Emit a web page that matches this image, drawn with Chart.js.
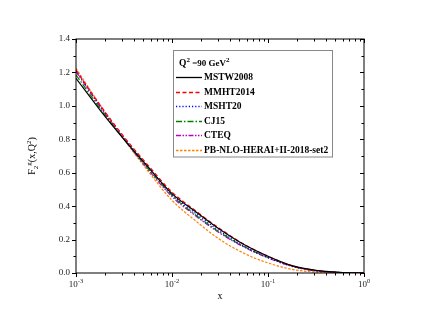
<html>
<head>
<script src="https://cdn.jsdelivr.net/npm/chart.js@4.4.1/dist/chart.umd.min.js"></script>
<style>
  body { margin: 0; background: #fff; }
  #wrap { width: 423px; height: 327px; }
</style>
</head>
<body>
<div id="wrap"><canvas id="mainchart" width="423" height="327"></canvas></div>
<script>
// x grid (log10 steps of 0.25 from 1e-3 to 1)
const xs = [0.001, 0.00178, 0.00316, 0.00562, 0.01, 0.0178, 0.0316, 0.0562, 0.1, 0.178, 0.316, 0.562, 1]

const mstw2008 = [1.165, 0.975, 0.800, 0.635, 0.475, 0.365, 0.260, 0.170, 0.100, 0.044, 0.016, 0.004, 0.0]
const mmht2014 = [1.215, 1.005, 0.815, 0.645, 0.485, 0.370, 0.265, 0.172, 0.100, 0.043, 0.014, 0.003, 0.0]
const msht20   = [1.210, 1.000, 0.810, 0.635, 0.470, 0.355, 0.250, 0.160, 0.093, 0.040, 0.013, 0.003, 0.0]
const cj15     = [1.185, 0.985, 0.800, 0.625, 0.465, 0.345, 0.243, 0.158, 0.093, 0.042, 0.014, 0.003, 0.0]
const cteq     = [1.205, 0.995, 0.800, 0.620, 0.457, 0.340, 0.238, 0.155, 0.090, 0.040, 0.013, 0.003, 0.0]
const pbNlo    = [1.225, 1.005, 0.800, 0.610, 0.435, 0.310, 0.200, 0.118, 0.060, 0.022, 0.005, 0.001, 0.0]

const labels = ['MSTW2008', 'MMHT2014', 'MSHT20', 'CJ15', 'CTEQ', 'PB-NLO-HERAI+II-2018-set2']
const colors = ['#000000', '#ff0000', '#0000ff', '#008000', '#c000c0', '#ff8000']
const dashes = [[], [4, 2.5], [1.2, 2], [6, 2, 1.5, 2], [5, 1.5, 1.5, 1.5, 1.5, 1.5], [2.5, 1.5]]
const series = [mstw2008, mmht2014, msht20, cj15, cteq, pbNlo]

const yTicks = [0.0, 0.2, 0.4, 0.6, 0.8, 1.0, 1.2, 1.4]
const xTickExps = [-3, -2, -1, 0]

const serif = '"Liberation Serif", "DejaVu Serif", serif'

function supText(ctx, parts, x, y, align) {
    // parts: [text, size, dy, bold]
    var w = 0
    parts.forEach(p => { ctx.font = (p[3] ? 'bold ' : '') + p[1] + 'px ' + serif; w += ctx.measureText(p[0]).width })
    var cx = align === 'center' ? x - w / 2 : x
    parts.forEach(p => {
        ctx.font = (p[3] ? 'bold ' : '') + p[1] + 'px ' + serif
        ctx.textAlign = 'left'
        ctx.textBaseline = 'alphabetic'
        ctx.fillText(p[0], cx, y + p[2])
        cx += ctx.measureText(p[0]).width
    })
}

const framePlugin = {
    id: 'frame',
    afterDraw(chart) {
        const ctx = chart.ctx
        const {left, right, top, bottom} = chart.chartArea
        const sx = chart.scales.x, sy = chart.scales.y
        ctx.save()
        ctx.strokeStyle = '#000'
        ctx.fillStyle = '#000'
        ctx.lineWidth = 1
        ctx.setLineDash([])
        ctx.strokeRect(left, top, right - left, bottom - top)

        // y ticks
        ctx.beginPath()
        for (var i = 0; i <= 14; i++) {
            var py = Math.round(sy.getPixelForValue(i / 10)) + 0.5
            var len = i % 2 === 0 ? 4 : 2.5
            ctx.moveTo(left - len, py); ctx.lineTo(left, py)
            ctx.moveTo(right, py); ctx.lineTo(right - len, py)
        }
        // x ticks
        xTickExps.forEach(e => {
            for (var k = 1; k <= 9; k++) {
                if (e === 0 && k > 1) break
                var px = Math.round(sx.getPixelForValue(k * Math.pow(10, e))) + 0.5
                var len = k === 1 ? 4 : 2.5
                ctx.moveTo(px, bottom); ctx.lineTo(px, bottom + len)
                ctx.moveTo(px, top); ctx.lineTo(px, top + len)
            }
        })
        ctx.stroke()

        // y tick labels
        ctx.font = '9px ' + serif
        ctx.fillStyle = '#222'
        ctx.textAlign = 'right'
        ctx.textBaseline = 'middle'
        yTicks.forEach(v => ctx.fillText(v.toFixed(1), left - 6, sy.getPixelForValue(v)))
        // x tick labels
        xTickExps.forEach(e => {
            supText(ctx, [['10', 9, 0], [String(e), 6.5, -4]], sx.getPixelForValue(Math.pow(10, e)), bottom + 14, 'center')
        })

        // axis titles
        ctx.fillStyle = '#000'
        ctx.font = '10px ' + serif
        ctx.textAlign = 'center'
        ctx.textBaseline = 'alphabetic'
        ctx.fillText('x', (left + right) / 2, bottom + 26)
        ctx.save()
        ctx.translate(35, (top + bottom) / 2)
        ctx.rotate(-Math.PI / 2)
        supText(ctx, [['F', 10, 0], ['2', 7, 2.5], ['g', 7, -4.5], ['(x,Q', 10, 0], ['2', 7, -4.5], [')', 10, 0]], 0, 0, 'center')
        ctx.restore()

        // legend box
        var bx = 173.5, by = 50.5, bw = 159, bh = 106.5
        ctx.strokeStyle = '#888'
        ctx.lineWidth = 1
        ctx.strokeRect(bx, by, bw, bh)
        ctx.fillStyle = '#000'
        supText(ctx, [['Q', 9.5, 0, true], ['2', 7, -4, true], [' =90 GeV', 9, 0, true], ['2', 7, -4, true]], 179, 66, 'left')
        labels.forEach((lab, i) => {
            var ly = Math.round(77 + i * 14.6) + 0.5
            ctx.strokeStyle = colors[i]
            ctx.lineWidth = 1.3
            ctx.setLineDash(dashes[i])
            ctx.beginPath()
            ctx.moveTo(176, ly); ctx.lineTo(202, ly)
            ctx.stroke()
            ctx.setLineDash([])
            ctx.font = 'bold 9.5px ' + serif
            ctx.textAlign = 'left'
            ctx.textBaseline = 'middle'
            ctx.fillStyle = '#000'
            ctx.fillText(lab, 204, ly)
        })
        ctx.restore()
    }
}

const ctx = document.getElementById('mainchart').getContext('2d')
const chart = new Chart(ctx, {
    type: 'line',
    data: {
        datasets: series.map((s, i) => ({
            label: labels[i],
            data: s.map((v, j) => ({ x: xs[j], y: v })),
            borderColor: colors[i],
            borderDash: dashes[i],
            borderWidth: 1.2,
            pointRadius: 0,
            fill: false,
            cubicInterpolationMode: 'monotone'
        }))
    },
    options: {
        responsive: false,
        animation: false,
        layout: { padding: { left: 76, right: 59, top: 39, bottom: 54 } },
        plugins: { legend: { display: false }, tooltip: { enabled: false } },
        scales: {
            x: { type: 'logarithmic', min: 0.001, max: 1, display: false },
            y: { type: 'linear', min: 0, max: 1.4, display: false }
        }
    },
    plugins: [framePlugin]
})
</script>
</body>
</html>
